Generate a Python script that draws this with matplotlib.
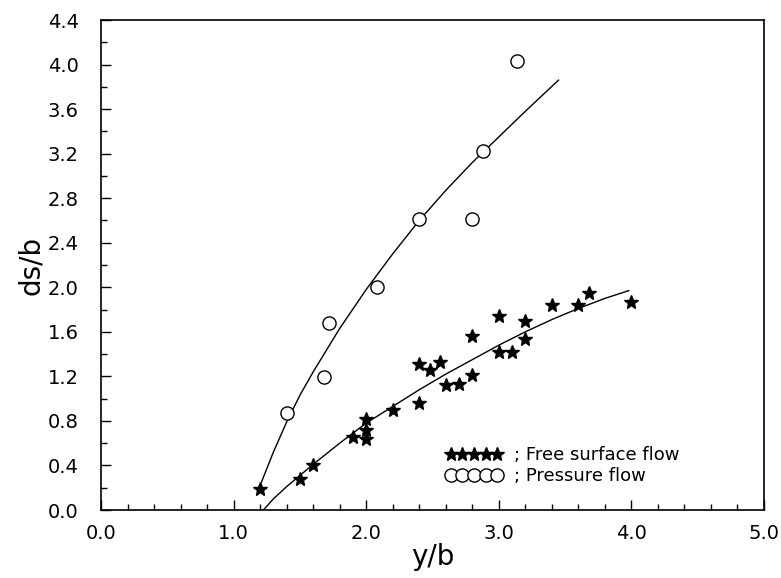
import matplotlib
matplotlib.use("Agg")
import matplotlib.pyplot as plt
from matplotlib.lines import Line2D
from matplotlib.ticker import MultipleLocator, FormatStrFormatter

# pressure flow (circles)
press_x = [1.40, 1.68, 1.72, 2.08, 2.40, 2.80, 2.88, 3.14]
press_y = [0.87, 1.19, 1.68, 2.00, 2.61, 2.61, 3.22, 4.03]
# free surface flow (stars)
free_x = [1.20, 1.50, 1.60, 1.90, 2.00, 2.00, 2.00, 2.20, 2.40, 2.40, 2.48, 2.56,
          2.60, 2.70, 2.80, 2.80, 3.00, 3.00, 3.10, 3.20, 3.20, 3.40, 3.60, 3.68, 4.00]
free_y = [0.19, 0.28, 0.40, 0.66, 0.82, 0.72, 0.64, 0.90, 0.96, 1.31, 1.26, 1.33,
          1.12, 1.13, 1.56, 1.21, 1.74, 1.42, 1.42, 1.70, 1.54, 1.84, 1.84, 1.95, 1.87]
# fitted curves
fit_press_x = [1.21, 1.30, 1.40, 1.50, 1.60, 1.80, 2.00, 2.20, 2.40, 2.60, 2.80, 3.00, 3.20, 3.45]
fit_press_y = [0.25, 0.52, 0.79, 1.03, 1.24, 1.63, 1.98, 2.30, 2.60, 2.87, 3.12, 3.35, 3.58, 3.86]
fit_free_x = [1.225, 1.30, 1.40, 1.60, 1.80, 2.00, 2.20, 2.40, 2.60, 2.80, 3.00, 3.20, 3.40,
              3.60, 3.80, 3.98]
fit_free_y = [0.00, 0.10, 0.21, 0.41, 0.60, 0.78, 0.93, 1.08, 1.22, 1.35, 1.48, 1.60, 1.71,
              1.81, 1.90, 1.97]

plt.rcParams["font.family"] = "DejaVu Sans"

fig = plt.figure(figsize=(7.81, 5.78), dpi=100)
ax = fig.add_axes([101 / 781, 68 / 578, 663 / 781, 490 / 578])

ax.plot(fit_press_x, fit_press_y, color="black", lw=1.0)
ax.plot(fit_free_x, fit_free_y, color="black", lw=1.0)
ax.plot(press_x, press_y, ls="none", marker="o", ms=9.5, mfc="white", mec="black", mew=1.0)
ax.plot(free_x, free_y, ls="none", marker="*", ms=10, color="black")

ax.set_xlim(0, 5.0)
ax.set_ylim(0, 4.4)
ax.xaxis.set_major_locator(MultipleLocator(1.0))
ax.xaxis.set_minor_locator(MultipleLocator(0.2))
ax.yaxis.set_major_locator(MultipleLocator(0.4))
ax.yaxis.set_minor_locator(MultipleLocator(0.2))
ax.xaxis.set_major_formatter(FormatStrFormatter("%.1f"))
ax.yaxis.set_major_formatter(FormatStrFormatter("%.1f"))
ax.tick_params(which="both", direction="in", top=False, right=False, labelsize=14,
               width=1.0, colors="black")
ax.tick_params(which="major", length=7)
ax.tick_params(which="minor", length=4)
ax.tick_params(axis="x", pad=10)
ax.tick_params(axis="y", pad=16)
for sp in ax.spines.values():
    sp.set_linewidth(1.2)

ax.set_xlabel("y/b", fontsize=20, labelpad=0)
ax.set_ylabel("ds/b", fontsize=20, labelpad=2)

handles = [Line2D([0], [0], ls="none", marker="*", ms=10, color="black"),
           Line2D([0], [0], ls="none", marker="o", ms=9.5, mfc="white", mec="black", mew=1.0)]
ax.legend(handles, ["; Free surface flow", "; Pressure flow"], loc="upper left",
          bbox_to_anchor=(0.519, 0.13), frameon=False, numpoints=5, handlelength=3.2,
          handletextpad=0.6, borderpad=0, borderaxespad=0, labelspacing=0.15, fontsize=13)

fig.savefig("out.png", dpi=100)
